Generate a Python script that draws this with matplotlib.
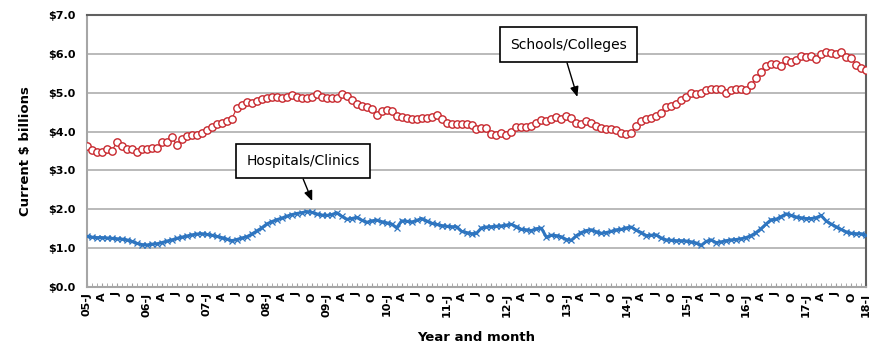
import numpy as np
import matplotlib.pyplot as plt

# monthly values, Jan 2005 .. Jan 2018 ($ billions)
schools = [
    3.63, 3.53, 3.48, 3.48, 3.54, 3.51, 3.73, 3.63, 3.55, 3.55, 3.46, 3.55,
    3.56, 3.57, 3.57, 3.72, 3.74, 3.85, 3.65, 3.82, 3.88, 3.90, 3.92, 3.97,
    4.04, 4.11, 4.20, 4.21, 4.26, 4.33, 4.60, 4.67, 4.76, 4.73, 4.79, 4.84,
    4.87, 4.90, 4.90, 4.87, 4.88, 4.94, 4.90, 4.86, 4.86, 4.88, 4.96, 4.90,
    4.87, 4.87, 4.86, 4.96, 4.92, 4.80, 4.72, 4.66, 4.62, 4.58, 4.43, 4.53,
    4.56, 4.52, 4.39, 4.37, 4.34, 4.32, 4.32, 4.34, 4.34, 4.37, 4.43, 4.32,
    4.21, 4.19, 4.19, 4.19, 4.19, 4.17, 4.06, 4.09, 4.09, 3.94, 3.90, 3.96,
    3.92, 4.00, 4.11, 4.11, 4.11, 4.15, 4.23, 4.30, 4.26, 4.32, 4.37, 4.33,
    4.39, 4.34, 4.23, 4.20, 4.26, 4.23, 4.15, 4.09, 4.06, 4.06, 4.04, 3.97,
    3.94, 3.97, 4.15, 4.26, 4.32, 4.36, 4.40, 4.47, 4.62, 4.66, 4.71, 4.80,
    4.90, 5.00, 4.97, 5.00, 5.06, 5.10, 5.09, 5.09, 4.99, 5.07, 5.09, 5.09,
    5.07, 5.20, 5.37, 5.52, 5.69, 5.73, 5.73, 5.69, 5.83, 5.78, 5.85, 5.95,
    5.93, 5.95, 5.87, 6.00, 6.04, 6.03, 6.00, 6.04, 5.93, 5.89, 5.72, 5.63,
    5.59,
]

hospitals = [
    1.30, 1.28, 1.27, 1.27, 1.26, 1.25, 1.24, 1.23, 1.21, 1.17, 1.12, 1.09,
    1.08, 1.10, 1.11, 1.14, 1.18, 1.21, 1.25, 1.28, 1.31, 1.34, 1.36, 1.37,
    1.35, 1.33, 1.30, 1.27, 1.23, 1.19, 1.22, 1.26, 1.29, 1.36, 1.44, 1.52,
    1.62, 1.68, 1.73, 1.77, 1.82, 1.86, 1.89, 1.91, 1.94, 1.92, 1.88, 1.85,
    1.84, 1.86, 1.91, 1.82, 1.74, 1.76, 1.79, 1.72, 1.66, 1.70, 1.72, 1.68,
    1.65, 1.62, 1.52, 1.70, 1.69, 1.67, 1.71, 1.76, 1.70, 1.64, 1.61, 1.58,
    1.56, 1.55, 1.55, 1.43, 1.40, 1.37, 1.38, 1.52, 1.54, 1.55, 1.56, 1.57,
    1.59, 1.61, 1.55, 1.48, 1.47, 1.45, 1.50, 1.51, 1.28, 1.33, 1.32, 1.29,
    1.22, 1.20, 1.32, 1.40, 1.45, 1.47, 1.42, 1.38, 1.40, 1.43, 1.47, 1.48,
    1.52, 1.54, 1.46, 1.40, 1.32, 1.33, 1.34, 1.26, 1.21, 1.20, 1.19, 1.19,
    1.18, 1.16, 1.13, 1.07, 1.17, 1.21, 1.14, 1.16, 1.19, 1.21, 1.22, 1.24,
    1.27, 1.32, 1.40, 1.50, 1.62, 1.73, 1.74, 1.81, 1.88, 1.84, 1.80, 1.78,
    1.76, 1.76, 1.78, 1.84, 1.70, 1.62, 1.55, 1.48, 1.42, 1.38, 1.37, 1.37,
    1.33,
]

first_year = 5
quarter_letters = ["J", "A", "J", "O"]

n = len(schools)
x = np.arange(n)
tick_pos = np.arange(0, n, 3)
tick_labels = []
for p in tick_pos:
    q = (p % 12) // 3
    if q == 0:
        tick_labels.append("%02d-J" % (first_year + p // 12))
    else:
        tick_labels.append(quarter_letters[q])

plt.rcParams['font.family'] = ['DejaVu Sans']

fig = plt.figure(figsize=(8.7, 3.56), dpi=100)
ax = fig.add_axes([0.1, 0.194, 0.8954, 0.764])

red = '#C8282E'
blue = '#2E75C0'

ax.plot(x, hospitals, color=blue, lw=2.2, marker='x', ms=4, mew=0.9, zorder=3)
ax.plot(x, schools, color=red, lw=0.8, marker='o', ms=5.3, mfc='white',
        mec=red, mew=1.0, zorder=4)

ax.set_xlim(0, n - 1)
ax.set_ylim(0, 7)
ax.set_yticks(np.arange(0, 7.5, 1))
ax.set_yticklabels(["$%.1f" % v for v in np.arange(0, 7.5, 1)],
                   fontsize=8, fontweight='bold')
ax.yaxis.grid(True, color='#B4B4B4', lw=1.3)
ax.set_axisbelow(True)
ax.tick_params(axis='y', length=0, pad=8)

ax.set_xticks(tick_pos)
ax.set_xticklabels(tick_labels, rotation=90, fontsize=8, fontweight='bold')
ax.set_xticks(x, minor=True)
ax.tick_params(axis='x', which='both', direction='in', length=3,
               color='#A0A0A0', pad=4)

for side in ['left', 'bottom']:
    ax.spines[side].set_color('#A6A6A6')
    ax.spines[side].set_linewidth(1.5)
for side in ['top', 'right']:
    ax.spines[side].set_color('#606060')
    ax.spines[side].set_linewidth(1.5)

ax.set_ylabel('Current $ billions', fontsize=9.5, fontweight='bold', labelpad=12)
ax.set_xlabel('Year and month', fontsize=9.5, fontweight='bold', labelpad=10)

box = dict(boxstyle='square,pad=0.75', fc='white', ec='black', lw=1.2)
ax.annotate('Schools/Colleges', xy=(98.2, 4.89), xytext=(96.4, 6.23),
            ha='center', va='center', fontsize=10, bbox=box,
            arrowprops=dict(arrowstyle='-|>,head_width=0.25,head_length=0.6',
                            color='black', lw=1,
                            relpos=(0.46, 0.0), shrinkA=0, shrinkB=0))
ax.annotate('Hospitals/Clinics', xy=(45.1, 2.21), xytext=(43.3, 3.24),
            ha='center', va='center', fontsize=10, bbox=box,
            arrowprops=dict(arrowstyle='-|>,head_width=0.25,head_length=0.6',
                            color='black', lw=1,
                            relpos=(0.46, 0.0), shrinkA=0, shrinkB=0))

fig.savefig('out.png', dpi=100)
